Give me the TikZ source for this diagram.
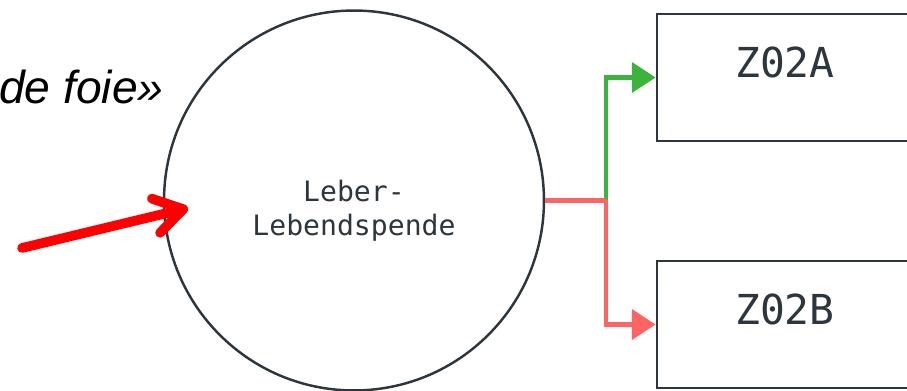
\documentclass[tikz,border=0pt]{standalone}
\usepackage{fontspec}
\usepackage{tikz}
\usetikzlibrary{arrows.meta}
\newfontfamily\codefont{DejaVu Sans Mono}
\newfontfamily\quotefont{Liberation Sans}
\definecolor{ink}{RGB}{44,54,60}
\definecolor{okgreen}{RGB}{60,180,60}
\definecolor{badred}{RGB}{255,100,100}

\tikzset{
  donor/.style={circle, draw=ink, line width=1.4pt, minimum size=7.6cm, inner sep=0pt},
  donortext/.style={align=center, text=ink, inner sep=0pt, font=\codefont\fontsize{16}{19.5}\selectfont},
  codebox/.style={rectangle, draw=ink, line width=1.6pt, minimum width=5.12cm, minimum height=2.54cm,
    inner sep=0pt, text=ink, text height=16pt, text depth=16pt, font=\codefont\fontsize{23.5}{28}\selectfont},
  link/.style={line width=2.4pt, line join=miter},
  pointer/.style={red, line width=5.5pt, line cap=round,
    -{Straight Barb[length=16pt, width=20pt, line cap=round, line join=round]}}
}

\begin{document}
\begin{tikzpicture}[x=0.02cm, y=-0.02cm]
  \useasboundingbox (0,0) rectangle (907,391);

  \node[donor] (leber) at (354,200.5) {};
  \node[donortext] (leberlabel) at ([yshift=-0.2cm]leber.center) {Leber-\\Lebendspende};
  \node[codebox] (z02a) at (785,77.5) {Z02A};
  \node[codebox] (z02b) at (785,324.5) {Z02B};

  \node[anchor=base east, inner sep=0pt, font=\quotefont\itshape\fontsize{26.3}{30}\selectfont] (quote) at (164,104) {de foie»};

  \coordinate (split) at ([xshift=-1cm]leber.east -| z02a.west);
  \coordinate (src) at (22,248);
  \coordinate (hit) at (188,208);

  % branches
  \draw[link, okgreen, -{Triangle[length=13.5pt, width=17pt]}] (split) |- (z02a.west);
  \draw[link, badred] (leber.east) -- (split);
  \draw[link, badred, -{Triangle[length=13.5pt, width=17pt]}] (split) |- (z02b.west);

  \draw[pointer] (src) -- (hit);
\end{tikzpicture}
\end{document}
